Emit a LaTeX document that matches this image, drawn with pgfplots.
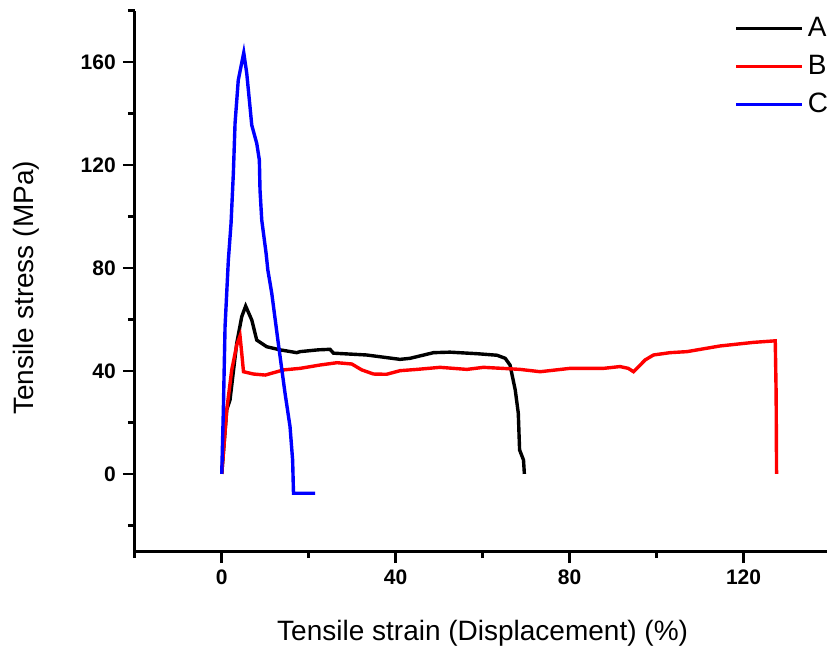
\documentclass[border=0pt]{standalone}
\usepackage{fontspec}
\setmainfont{Liberation Sans}
\usepackage{pgfplots}
\pgfplotsset{compat=1.18}
\begin{document}
\begin{tikzpicture}
\begin{axis}[
  width=347.8pt, height=270.25pt, scale only axis,
  xmin=-20, xmax=140, ymin=-30, ymax=180,
  axis lines=left, axis line style={-, line width=1.5pt},
  xtick={0,40,80,120}, ytick={0,40,80,120,160},
  minor xtick={-20,20,60,100,140}, minor ytick={-20,20,60,100,140,180},
  tick align=outside,
  major tick length=6pt, minor tick length=3.5pt,
  every tick/.style={black, line width=1.3pt},
  tick label style={font=\fontsize{10.5}{12}\selectfont\bfseries},
  /pgf/number format/assume math mode=true,
  xlabel={Tensile strain (Displacement) (\%)},
  ylabel={Tensile stress (MPa)},
  label style={font=\fontsize{14}{16}\selectfont},
  xlabel style={at={(axis description cs:0.5,-0.1647)}, anchor=base},
  ylabel style={at={(axis description cs:-0.1462,0.487)}, anchor=base},
  legend style={draw=none, fill=none, at={(axis cs:117.8,179)}, anchor=north west,
    inner sep=0pt, row sep=3.8pt, font=\fontsize{14}{16}\selectfont},
  legend cell align=left,
  legend image code/.code={\draw[#1] (0pt,0pt) -- (33pt,0pt);},
  every axis plot/.append style={line width=1.7pt},
]
\addplot[black] coordinates {
(0,0) (1.15,24.9) (1.9,28.7) (3.45,50.8) (4.6,61.1) (5.5,65.2) (6.9,59.8) (8.05,52)
(10.35,49.4) (13.4,48.2) (17.25,47.1) (18,47.5) (22.2,48.2) (24.9,48.4) (25.7,46.9)
(33.3,46.2) (41,44.5) (43.3,44.9) (48.7,47.1) (52.5,47.3) (58.7,46.7) (63.3,46.1)
(65.2,44.9) (66.3,42.3) (67.5,32.6) (68.2,23.6) (68.5,9.3) (69.4,5.4) (69.6,0)
};
\addlegendentry{A}
\addplot[red] coordinates {
(0,0) (1.15,24.9) (2.3,40.4) (3.45,50.1) (4.2,53.6) (4.6,46.9) (5,39.7) (7.3,38.8)
(10,38.4) (14.2,40.4) (18,41) (22.6,42.3) (26.5,43.2) (29.9,42.7) (32.2,40.4)
(34.9,38.8) (37.9,38.7) (41,40.1) (44.9,40.6) (50.2,41.4) (56.4,40.6) (60.2,41.4)
(65.6,40.9) (68.6,40.6) (71.7,40) (73.2,39.7) (80.1,41) (87.8,41) (91.6,41.7)
(93.5,41) (94.7,39.7) (97.4,44.3) (99.3,46.2) (103.1,47.1) (107,47.5) (114.6,49.7)
(122.3,51.1) (127.3,51.7) (127.5,31.3) (127.6,0)
};
\addlegendentry{B}
\addplot[blue] coordinates {
(0,0) (0.37,24.9) (0.76,57.2) (1.52,83.1) (2.14,97.4) (2.67,116.8) (3.06,136.2)
(3.8,153) (5.06,163.6) (5.75,155.6) (6.5,142.6) (6.9,135.5) (8.05,128.4) (8.65,121.9)
(8.8,110.3) (9.2,98.6) (10.2,85.7) (10.6,79.2) (11.5,70.2) (13,50.8) (14.56,31.3)
(15.7,18.4) (16.3,5.4) (16.5,-7.5) (21.5,-7.5)
};
\addlegendentry{C}
\coordinate (BL) at (axis cs:-51,-66.8);
\coordinate (TR) at (axis cs:139.2,184.1);
\end{axis}
\pgfresetboundingbox
\useasboundingbox (BL) rectangle (TR);
\end{tikzpicture}
\end{document}
